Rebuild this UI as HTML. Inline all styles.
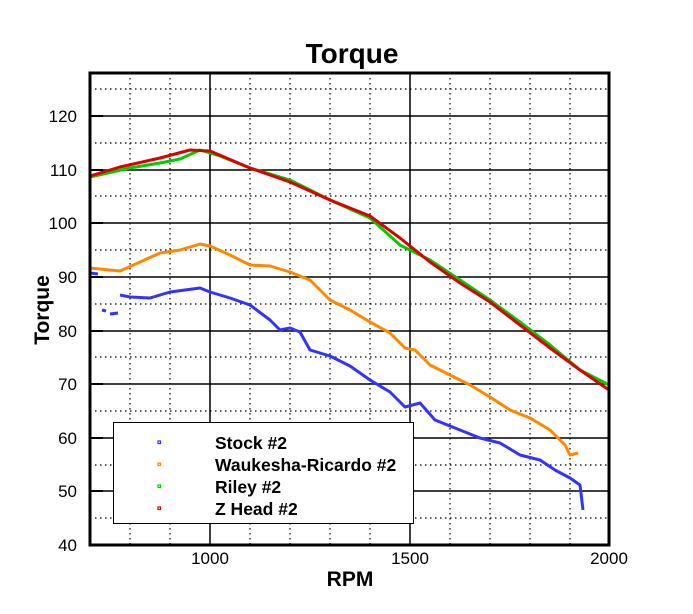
<!DOCTYPE html><html><head><style>body{margin:0;background:#fff}svg{display:block}text{font-family:"Liberation Sans",sans-serif}</style></head><body>
<svg width="693" height="614" viewBox="0 0 693 614">
<rect width="693" height="614" fill="#fff"/>
<g stroke="#000" stroke-width="1.2" stroke-dasharray="1.5,3.5">
<line x1="90" x2="609" y1="89" y2="89"/><line x1="90" x2="609" y1="143" y2="143"/><line x1="90" x2="609" y1="196" y2="196"/><line x1="90" x2="609" y1="250" y2="250"/><line x1="90" x2="609" y1="304" y2="304"/><line x1="90" x2="609" y1="357" y2="357"/><line x1="90" x2="609" y1="411" y2="411"/><line x1="90" x2="609" y1="465" y2="465"/><line x1="90" x2="609" y1="518" y2="518"/>
<line x1="130" x2="130" y1="73" y2="545"/><line x1="170" x2="170" y1="73" y2="545"/><line x1="250" x2="250" y1="73" y2="545"/><line x1="290" x2="290" y1="73" y2="545"/><line x1="330" x2="330" y1="73" y2="545"/><line x1="370" x2="370" y1="73" y2="545"/><line x1="450" x2="450" y1="73" y2="545"/><line x1="490" x2="490" y1="73" y2="545"/><line x1="530" x2="530" y1="73" y2="545"/><line x1="570" x2="570" y1="73" y2="545"/>
</g>
<g stroke="#000" stroke-width="1.5">
<line x1="90" x2="609" y1="116" y2="116"/><line x1="90" x2="609" y1="170" y2="170"/><line x1="90" x2="609" y1="223" y2="223"/><line x1="90" x2="609" y1="277" y2="277"/><line x1="90" x2="609" y1="331" y2="331"/><line x1="90" x2="609" y1="384" y2="384"/><line x1="90" x2="609" y1="438" y2="438"/><line x1="90" x2="609" y1="491" y2="491"/>
<line x1="210" x2="210" y1="73" y2="545"/><line x1="410" x2="410" y1="73" y2="545"/>
</g>
<g fill="none" stroke-width="3" stroke-linejoin="round">
<polyline stroke="#3333ff" points="90,273 98,274"/>
<polyline stroke="#3333ff" points="102,310 106,311"/>
<polyline stroke="#3333ff" points="110,314 118,313"/>
<polyline stroke="#3333ff" points="120,295 130,297 150,298 170,292 200,288 210,292 230,298 250,305 270,320 280,330 290,328 300,332 310,350 330,356 350,366 370,380 390,392 405,407 420,403 435,420 460,430 480,438 500,443 520,455 540,460 555,470 570,478 580,485 583,510"/>
<polyline stroke="#ff8800" points="90,268 120,271 140,262 160,253 180,250 200,244 210,246 230,255 250,265 270,266 290,272 310,280 330,300 350,310 370,322 390,333 405,348 415,350 430,365 450,375 470,385 490,397 510,410 530,418 550,430 565,445 570,455 578,453"/>
<polyline stroke="#00cc00" points="90,177 130,168 160,163 180,159 200,150 220,156 250,168 290,180 330,200 370,218 400,245 430,260 460,280 490,300 520,322 550,345 580,370 609,385"/>
<polyline stroke="#dd0000" points="90,176 120,167 160,158 190,150 210,151 250,168 290,182 330,200 370,216 400,238 430,262 460,283 490,302 520,325 550,348 580,370 609,390"/>
</g>
<rect x="90" y="73" width="519" height="472" fill="none" stroke="#000" stroke-width="3"/>
<g stroke="#000" stroke-width="2"><line x1="90" x2="103" y1="116" y2="116"/><line x1="90" x2="103" y1="170" y2="170"/><line x1="90" x2="103" y1="223" y2="223"/><line x1="90" x2="103" y1="277" y2="277"/><line x1="90" x2="103" y1="331" y2="331"/><line x1="90" x2="103" y1="384" y2="384"/><line x1="90" x2="103" y1="438" y2="438"/><line x1="90" x2="103" y1="491" y2="491"/></g>
<rect x="113.5" y="422.5" width="300" height="101" fill="#fff" stroke="#000" stroke-width="1"/>
<g stroke-width="1.2" fill="none">
<rect x="158" y="441" width="2.5" height="2.5" stroke="#3333ff"/><rect x="158" y="463" width="2.5" height="2.5" stroke="#ff8800"/><rect x="158" y="485" width="2.5" height="2.5" stroke="#00cc00"/><rect x="158" y="507" width="2.5" height="2.5" stroke="#dd0000"/>
</g>
<g font-weight="bold" font-size="17.5">
<text x="215" y="449">Stock #2</text><text x="215" y="471">Waukesha-Ricardo #2</text><text x="215" y="493">Riley #2</text><text x="215" y="515">Z Head #2</text>
</g>
<g font-size="17" text-anchor="end">
<text x="77" y="122">120</text><text x="77" y="176">110</text><text x="77" y="229">100</text><text x="77" y="283">90</text><text x="77" y="337">80</text><text x="77" y="390">70</text><text x="77" y="444">60</text><text x="77" y="497">50</text><text x="77" y="551">40</text>
</g>
<g font-size="17" text-anchor="middle">
<text x="210" y="564">1000</text><text x="410" y="564">1500</text><text x="609" y="564">2000</text>
</g>
<text x="352" y="63" font-size="28" font-weight="bold" text-anchor="middle">Torque</text>
<text x="350" y="586" font-size="21" font-weight="bold" text-anchor="middle">RPM</text>
<text transform="translate(49,310) rotate(-90)" font-size="21" font-weight="bold" text-anchor="middle">Torque</text>
</svg></body></html>
